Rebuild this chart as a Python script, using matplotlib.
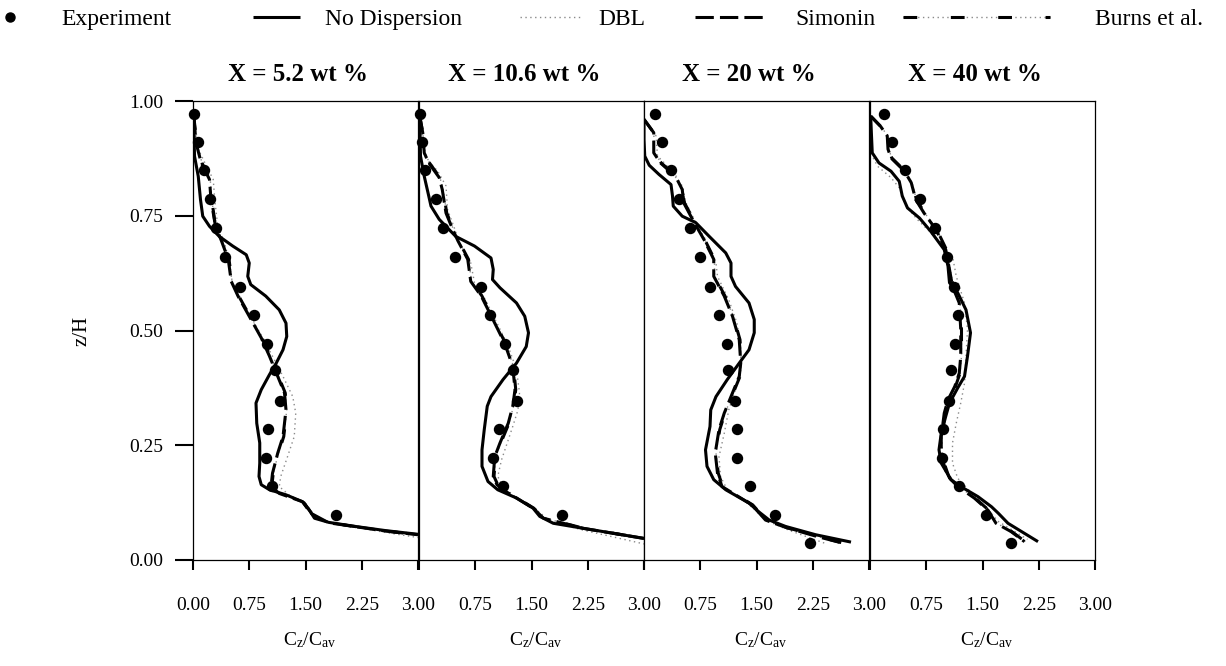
import matplotlib
matplotlib.use("Agg")
import matplotlib.pyplot as plt
from matplotlib.lines import Line2D
from matplotlib.legend_handler import HandlerTuple

plt.rcParams['font.family'] = ['Liberation Serif', 'DejaVu Serif']
plt.rcParams['mathtext.fontset'] = 'custom'
plt.rcParams['mathtext.rm'] = 'Liberation Serif'
plt.rcParams['mathtext.it'] = 'Liberation Serif:italic'

# ---------------- data ----------------
titles = ["X = 5.2 wt %", "X = 10.6 wt %", "X = 20 wt %", "X = 40 wt %"]
x_ticks = [0.0, 0.75, 1.5, 2.25, 3.0]
y_ticks = [0.0, 0.25, 0.5, 0.75, 1.0]

z_exp = [0.972, 0.910, 0.849, 0.786, 0.723, 0.660, 0.595, 0.533, 0.471,
         0.414, 0.346, 0.285, 0.223, 0.161, 0.098, 0.037]

exp1_x = [0.01, 0.07, 0.15, 0.22, 0.30, 0.42, 0.63, 0.81, 0.98, 1.09, 1.16, 1.00, 0.97, 1.05, 1.91]
exp2_x = [0.01, 0.04, 0.08, 0.22, 0.32, 0.48, 0.82, 0.95, 1.14, 1.25, 1.30, 1.07, 0.99, 1.12, 1.91]
exp3_x = [0.14, 0.24, 0.36, 0.47, 0.61, 0.74, 0.88, 1.00, 1.10, 1.12, 1.21, 1.24, 1.24, 1.41, 1.75, 2.21]
exp4_x = [0.19, 0.29, 0.47, 0.66, 0.87, 1.02, 1.12, 1.17, 1.13, 1.08, 1.05, 0.97, 0.96, 1.18, 1.54, 1.88]

# No dispersion
nd1_x = [0.01, 0.02, 0.07, 0.10, 0.13, 0.22, 0.35, 0.53, 0.71, 0.75, 0.73, 0.77, 0.97, 1.15, 1.24, 1.25, 1.20,
         1.11, 1.02, 0.91, 0.84, 0.85, 0.89, 0.89, 0.88, 0.91, 1.02, 1.24, 1.46, 1.55, 1.62, 1.81, 2.17, 2.57, 3.0]
nd1_z = [0.971, 0.88, 0.836, 0.785, 0.749, 0.727, 0.705, 0.684, 0.665, 0.647, 0.618, 0.60, 0.575, 0.545, 0.516,
         0.487, 0.458, 0.429, 0.404, 0.371, 0.342, 0.298, 0.255, 0.211, 0.182, 0.164, 0.153, 0.142, 0.127, 0.109,
         0.091, 0.082, 0.073, 0.064, 0.056]
nd2_x = [0.01, 0.02, 0.07, 0.13, 0.16, 0.27, 0.49, 0.74, 0.96, 0.99, 0.98, 1.08, 1.30, 1.41, 1.46, 1.43, 1.30,
         1.12, 0.96, 0.91, 0.87, 0.84, 0.84, 0.92, 1.05, 1.30, 1.52, 1.61, 1.79, 2.19, 2.60, 3.0]
nd2_z = [0.96, 0.88, 0.836, 0.793, 0.771, 0.742, 0.705, 0.684, 0.658, 0.633, 0.611, 0.593, 0.56, 0.531, 0.495,
         0.465, 0.429, 0.393, 0.356, 0.335, 0.284, 0.24, 0.204, 0.171, 0.153, 0.135, 0.113, 0.095, 0.08, 0.069,
         0.058, 0.047]
nd3_x = [0.0, 0.0, 0.01, 0.07, 0.20, 0.36, 0.38, 0.39, 0.51, 0.69, 0.87, 1.09, 1.16, 1.16, 1.22, 1.40, 1.47,
         1.47, 1.40, 1.27, 1.11, 0.96, 0.89, 0.88, 0.82, 0.84, 0.93, 1.09, 1.40, 1.53, 1.67, 1.89, 2.29, 2.76]
nd3_z = [0.96, 0.916, 0.88, 0.86, 0.84, 0.818, 0.793, 0.771, 0.749, 0.735, 0.705, 0.669, 0.647, 0.618, 0.596,
         0.56, 0.524, 0.495, 0.458, 0.429, 0.393, 0.356, 0.327, 0.291, 0.24, 0.204, 0.175, 0.153, 0.124, 0.105,
         0.087, 0.073, 0.055, 0.039]
nd4_x = [0.01, 0.02, 0.03, 0.12, 0.28, 0.39, 0.43, 0.50, 0.66, 0.81, 0.99, 1.04, 1.06, 1.17, 1.28, 1.34, 1.30,
         1.26, 1.17, 1.06, 1.01, 0.95, 0.92, 0.95, 1.08, 1.21, 1.44, 1.62, 1.71, 1.84, 2.24]
nd4_z = [0.964, 0.924, 0.887, 0.865, 0.847, 0.825, 0.793, 0.767, 0.745, 0.716, 0.676, 0.64, 0.604, 0.582, 0.545,
         0.495, 0.444, 0.40, 0.375, 0.342, 0.313, 0.276, 0.24, 0.211, 0.175, 0.16, 0.138, 0.116, 0.102, 0.08, 0.04]

# DBL
dbl1_x = [0.02, 0.07, 0.18, 0.27, 0.29, 0.33, 0.42, 0.49, 0.53, 0.62, 0.77, 0.93, 1.06, 1.20, 1.33, 1.37, 1.35,
          1.26, 1.17, 1.15, 1.28, 1.50, 1.64, 1.86, 2.57, 3.0]
dbl1_z = [0.96, 0.895, 0.858, 0.829, 0.785, 0.727, 0.691, 0.647, 0.596, 0.575, 0.531, 0.484, 0.444, 0.40, 0.356,
          0.32, 0.269, 0.225, 0.182, 0.16, 0.142, 0.124, 0.091, 0.08, 0.06, 0.049]
dbl2_x = [0.02, 0.07, 0.25, 0.36, 0.38, 0.47, 0.54, 0.69, 0.74, 0.87, 1.05, 1.19, 1.30, 1.34, 1.32, 1.25, 1.16,
          1.10, 1.05, 1.12, 1.30, 1.57, 1.75, 2.19, 3.0]
dbl2_z = [0.96, 0.88, 0.847, 0.815, 0.764, 0.724, 0.691, 0.647, 0.604, 0.571, 0.513, 0.465, 0.415, 0.364, 0.327,
          0.291, 0.247, 0.218, 0.182, 0.16, 0.135, 0.109, 0.084, 0.065, 0.035]
dbl3_x = [0.0, 0.16, 0.18, 0.29, 0.51, 0.56, 0.69, 0.82, 0.96, 0.98, 1.13, 1.24, 1.29, 1.29, 1.22, 1.13, 1.07,
          1.00, 1.02, 1.11, 1.36, 1.62, 1.93, 2.42]
dbl3_z = [0.96, 0.924, 0.88, 0.862, 0.815, 0.778, 0.735, 0.698, 0.647, 0.618, 0.567, 0.516, 0.465, 0.415, 0.371,
          0.327, 0.276, 0.225, 0.182, 0.153, 0.127, 0.087, 0.065, 0.036]
dbl4_x = [0.01, 0.03, 0.10, 0.28, 0.41, 0.48, 0.63, 0.81, 1.04, 1.10, 1.15, 1.26, 1.30, 1.28, 1.26, 1.21, 1.15,
          1.10, 1.10, 1.17, 1.39, 1.57, 1.70, 1.90, 2.10]
dbl4_z = [0.96, 0.88, 0.858, 0.833, 0.807, 0.771, 0.742, 0.713, 0.669, 0.662, 0.618, 0.56, 0.502, 0.444, 0.385,
          0.342, 0.298, 0.255, 0.211, 0.178, 0.14, 0.112, 0.085, 0.065, 0.045]

# Simonin
sim1_x = [0.01, 0.04, 0.11, 0.22, 0.24, 0.30, 0.38, 0.47, 0.51, 0.60, 0.75, 0.91, 1.02, 1.13, 1.22, 1.24, 1.20,
          1.13, 1.06, 1.04, 1.15, 1.46, 1.57, 1.81, 2.57, 3.0]
sim1_z = [0.967, 0.909, 0.865, 0.829, 0.785, 0.727, 0.695, 0.655, 0.607, 0.575, 0.531, 0.484, 0.444, 0.40, 0.364,
          0.327, 0.269, 0.233, 0.189, 0.16, 0.145, 0.127, 0.102, 0.081, 0.063, 0.055]
sim2_x = [0.01, 0.05, 0.07, 0.13, 0.27, 0.31, 0.36, 0.45, 0.52, 0.65, 0.69, 0.83, 1.01, 1.14, 1.25, 1.28, 1.25,
          1.19, 1.08, 1.01, 0.99, 1.04, 1.16, 1.52, 1.66, 2.19, 3.0]
sim2_z = [0.967, 0.931, 0.887, 0.865, 0.833, 0.807, 0.756, 0.72, 0.695, 0.655, 0.607, 0.575, 0.516, 0.473, 0.422,
          0.371, 0.335, 0.298, 0.255, 0.225, 0.182, 0.164, 0.149, 0.113, 0.091, 0.069, 0.047]
sim3_x = [0.0, 0.13, 0.13, 0.22, 0.42, 0.51, 0.53, 0.67, 0.80, 0.93, 0.93, 1.07, 1.18, 1.27, 1.29, 1.27, 1.16,
          1.07, 1.00, 0.95, 0.98, 1.04, 1.22, 1.44, 1.62, 1.89, 2.29, 2.62]
sim3_z = [0.96, 0.931, 0.887, 0.865, 0.836, 0.807, 0.778, 0.735, 0.698, 0.655, 0.618, 0.575, 0.531, 0.48, 0.429,
          0.40, 0.356, 0.32, 0.284, 0.233, 0.189, 0.16, 0.142, 0.12, 0.087, 0.071, 0.052, 0.038]
sim4_x = [0.01, 0.14, 0.23, 0.24, 0.28, 0.46, 0.55, 0.61, 0.72, 0.88, 1.01, 1.06, 1.10, 1.19, 1.21, 1.21, 1.19,
          1.13, 1.04, 0.99, 0.95, 0.95, 1.04, 1.17, 1.39, 1.57, 1.68, 1.88, 2.06]
sim4_z = [0.967, 0.945, 0.924, 0.895, 0.876, 0.847, 0.822, 0.785, 0.756, 0.72, 0.676, 0.633, 0.596, 0.56, 0.502,
          0.444, 0.407, 0.378, 0.349, 0.32, 0.269, 0.225, 0.182, 0.16, 0.135, 0.109, 0.08, 0.062, 0.04]

# Burns et al.
burns1_x = [0.01, 0.05, 0.12, 0.23, 0.25, 0.30, 0.39, 0.48, 0.52, 0.61, 0.76, 0.92, 1.03, 1.14, 1.23, 1.25, 1.21,
            1.14, 1.07, 1.05, 1.16, 1.47, 1.58, 1.82, 2.58, 3.0]
burns1_z = [0.967, 0.909, 0.865, 0.829, 0.785, 0.727, 0.695, 0.655, 0.607, 0.575, 0.531, 0.484, 0.444, 0.40, 0.364,
            0.327, 0.269, 0.233, 0.189, 0.16, 0.145, 0.127, 0.102, 0.081, 0.063, 0.055]
burns2_x = [0.01, 0.05, 0.08, 0.14, 0.28, 0.32, 0.37, 0.46, 0.53, 0.66, 0.70, 0.84, 1.02, 1.15, 1.26, 1.29, 1.26,
            1.20, 1.09, 1.02, 1.00, 1.05, 1.17, 1.53, 1.67, 2.20, 3.0]
burns2_z = [0.967, 0.931, 0.887, 0.865, 0.833, 0.807, 0.756, 0.72, 0.695, 0.655, 0.607, 0.575, 0.516, 0.473, 0.422,
            0.371, 0.335, 0.298, 0.255, 0.225, 0.182, 0.164, 0.149, 0.113, 0.091, 0.069, 0.047]
burns3_x = [0.0, 0.13, 0.14, 0.23, 0.43, 0.52, 0.54, 0.68, 0.81, 0.94, 0.94, 1.08, 1.19, 1.28, 1.30, 1.28, 1.17,
            1.08, 1.01, 0.96, 0.99, 1.05, 1.23, 1.45, 1.63, 1.90, 2.30, 2.63]
burns3_z = [0.96, 0.931, 0.887, 0.865, 0.836, 0.807, 0.778, 0.735, 0.698, 0.655, 0.618, 0.575, 0.531, 0.48, 0.429,
            0.40, 0.356, 0.32, 0.284, 0.233, 0.189, 0.16, 0.142, 0.12, 0.087, 0.071, 0.052, 0.038]
burns4_x = [0.01, 0.14, 0.24, 0.25, 0.29, 0.47, 0.56, 0.62, 0.73, 0.89, 1.02, 1.07, 1.11, 1.20, 1.22, 1.22, 1.20,
            1.14, 1.05, 1.00, 0.96, 0.96, 1.05, 1.18, 1.40, 1.58, 1.69, 1.89, 2.07]
burns4_z = [0.967, 0.945, 0.924, 0.895, 0.876, 0.847, 0.822, 0.785, 0.756, 0.72, 0.676, 0.633, 0.596, 0.56, 0.502,
            0.444, 0.407, 0.378, 0.349, 0.32, 0.269, 0.225, 0.182, 0.16, 0.135, 0.109, 0.08, 0.062, 0.04]

exp_x = [exp1_x, exp2_x, exp3_x, exp4_x]
nd = [(nd1_x, nd1_z), (nd2_x, nd2_z), (nd3_x, nd3_z), (nd4_x, nd4_z)]
dbl = [(dbl1_x, dbl1_z), (dbl2_x, dbl2_z), (dbl3_x, dbl3_z), (dbl4_x, dbl4_z)]
sim = [(sim1_x, sim1_z), (sim2_x, sim2_z), (sim3_x, sim3_z), (sim4_x, sim4_z)]
burns = [(burns1_x, burns1_z), (burns2_x, burns2_z), (burns3_x, burns3_z), (burns4_x, burns4_z)]

# ---------------- styles ----------------
LW = 2.2
nd_kw = dict(color='black', lw=LW, solid_joinstyle='round', solid_capstyle='butt')
dbl_kw = dict(color='#8a8a8a', lw=1.0, linestyle=(0, (1, 2.5)))
sim_kw = dict(color='black', lw=LW, linestyle=(0, (6, 2)))
burns_kw = dict(color='black', lw=LW, linestyle=(0, (4.5, 11)))
burns_dot_kw = dict(color='#8a8a8a', lw=1.0, linestyle=(0, (1, 2.5)))
exp_kw = dict(color='black', marker='o', ms=7.2, ls='none')

# ---------------- figure ----------------
W, H = 1226, 666
fig = plt.figure(figsize=(W / 100, H / 100), dpi=100)
lefts = [193, 419, 644, 870]
pw = 225
top_px, bot_px = 101, 560

FS = 14
for i in range(4):
    ax = fig.add_axes([lefts[i] / W, 1 - bot_px / H, pw / W, (bot_px - top_px) / H])
    ax.set_xlim(0, 3)
    ax.set_ylim(0, 1)
    for s in ax.spines.values():
        s.set_linewidth(0.9)
        s.set_color('black')

    ax.plot(*dbl[i], **dbl_kw, zorder=2)
    ax.plot(*burns[i], **burns_dot_kw, zorder=2)
    ax.plot(*burns[i], **burns_kw, zorder=3)
    ax.plot(*sim[i], **sim_kw, zorder=3)
    ax.plot(*nd[i], **nd_kw, zorder=4)
    ax.plot(exp_x[i], z_exp[:len(exp_x[i])], **exp_kw, zorder=5, clip_on=False)

    ax.set_xticks(x_ticks)
    labels = ["%.2f" % v for v in x_ticks]
    if i > 0:
        labels[0] = ""
    ax.set_xticklabels(labels, fontsize=FS)
    ax.tick_params(axis='x', direction='out', length=7.5, width=1.5, pad=19.5)
    if i == 0:
        ax.set_yticks(y_ticks)
        ax.set_yticklabels(["%.2f" % v for v in y_ticks], fontsize=FS)
        ax.tick_params(axis='y', direction='out', length=13, width=1.5, pad=8.5)
        ax.text(-0.495, 0.5, "z/H", transform=ax.transAxes, rotation=90,
                ha='center', va='center', fontsize=15)
    else:
        ax.set_yticks([])

    ax.text(0.467, 1.057, titles[i], transform=ax.transAxes, ha='center', va='center',
            fontsize=18, fontweight='bold')
    ax.text(0.52, -0.175, r"C$_\mathrm{z}$/C$_\mathrm{av}$", transform=ax.transAxes,
            ha='center', va='center', fontsize=FS)

# ---------------- legend (one entry each, placed like the original) ----------------
h_exp = Line2D([], [], color='black', marker='o', ms=6.5, ls='none')
h_nd = Line2D([], [], **nd_kw)
h_dbl = Line2D([], [], **dbl_kw)
h_sim = Line2D([], [], **sim_kw)
h_burns = (Line2D([], [], **burns_dot_kw), Line2D([], [], **burns_kw))

LFS = 17
em = LFS * 100 / 72.0
entries = [
    (h_exp, "Experiment", 0, 20, 61),
    (h_nd, "No Dispersion", 253, 300, 325),
    (h_dbl, "DBL", 520, 580, 598),
    (h_sim, "Simonin", 695, 765, 795),
    (h_burns, "Burns et al.", 903, 1050, 1095),
]
for h, lab, x0, x1, xt in entries:
    fig.legend([h], [lab], loc='center left', bbox_to_anchor=(x0 / W, 1 - 19 / H),
               frameon=False, borderpad=0, borderaxespad=0, fontsize=LFS,
               handlelength=(x1 - x0) / em, handletextpad=(xt - x1) / em,
               numpoints=1, handler_map={tuple: HandlerTuple(ndivide=1, pad=0)})

fig.savefig("out.png", dpi=100)
